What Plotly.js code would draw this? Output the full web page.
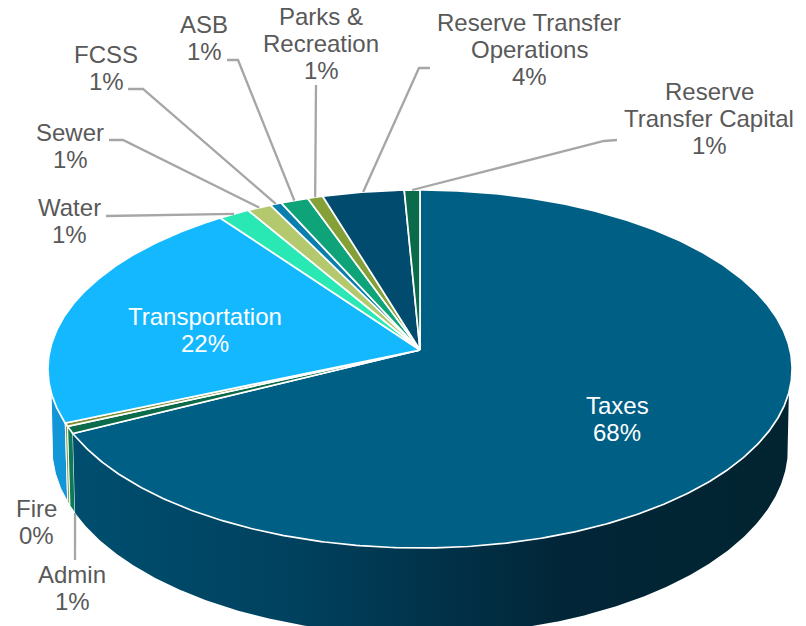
<!DOCTYPE html>
<html>
<head>
<meta charset="utf-8">
<script src="https://cdn.plot.ly/plotly-3.0.1.min.js"></script>
<style>html,body{margin:0;padding:0;background:#fff}#chart{width:806px;height:626px}</style>
</head>
<body>
<div id="chart"></div>
<script>
// ---- data (clockwise from 12 o'clock) ----
const categories = ["Taxes","Admin","Fire","Transportation","Water","Sewer","FCSS","ASB","Parks & Recreation","Reserve Transfer Operations","Reserve Transfer Capital"];
const values     = [67.6, 0.64, 0.31, 21.5, 1.5, 1.17, 0.55, 1.33, 0.74, 3.93, 0.75];
const percents   = ["68%","1%","0%","22%","1%","1%","1%","1%","1%","4%","1%"];
const topColors  = ["#005f85","#0b6b4a","#7f8f34","#14b8ff","#2ae8b4","#b4c96e","#0a7fae","#0fa37a","#84a036","#014b6e","#0a6b4a"];
const wallColors = {Admin:"#0b7b55", Fire:"#8e9c50", Transportation:"#1196d8"};
const taxesWallScale = [[0,"#004e6f"],[0.3,"#00425f"],[0.55,"#012f45"],[0.68,"#022638"],[1,"#022430"]];

// label layout: the lines of each label, and where they sit
const labelLines = [["Taxes"],["Admin"],["Fire"],["Transportation"],["Water"],["Sewer"],["FCSS"],["ASB"],["Parks &","Recreation"],["Reserve Transfer","Operations"],["Reserve","Transfer Capital"]];
const labelX     = [617,72,36,205,69,70,106,204,321,529,709];
const labelTop   = [405,574,508,316,207,132,54,24,16,22,91];
const inside     = ["Taxes","Transportation"];
// leader-line start and elbow, by category (the end is computed on the rim)
const leaders = {
  "Admin":[[75,560]],
  "Water":[[106,216]],
  "Sewer":[[109,140],[123,140]],
  "FCSS":[[128,89],[143,89]],
  "ASB":[[227,60],[238,60]],
  "Parks & Recreation":[[316,85]],
  "Reserve Transfer Operations":[[430,68],[419,68]],
  "Reserve Transfer Capital":[[617,140],[604,141]]
};

// ---- tilted-disc projection ----
const top_ = {cx:420, y0:350, A:177, B:370, k:0.106};
const bot_ = {cx:420, y0:425.6, A:184.3, B:365.3, k:0.12};
const rad = d => d*Math.PI/180;
function proj(p, deg){
  const u=Math.sin(rad(deg)), v=Math.cos(rad(deg)), w=1+p.k*v;
  return [p.cx+p.B*u/w, p.y0-p.A*v/w];
}
function arc(p,a,b){
  const n=Math.max(2,Math.ceil(Math.abs(b-a)/0.5)), out=[];
  for(let i=0;i<=n;i++) out.push(proj(p,a+(b-a)*i/n));
  return out;
}
const total = values.reduce((s,v)=>s+v,0);
let acc=0;
const bounds = values.map(v=>{const a=acc/total*360; acc+=v; return [a,acc/total*360];});

function polyTrace(pts,fill,lineW,extra){
  const xs=pts.map(p=>p[0]), ys=pts.map(p=>p[1]);
  xs.push(xs[0]); ys.push(ys[0]);
  return Object.assign({type:"scatter",mode:"lines",x:xs,y:ys,fill:"toself",fillcolor:fill,
    line:{color:"#ffffff",width:lineW},hoverinfo:"skip",showlegend:false},extra||{});
}
const traces=[];
const RIGHT_BOT=100, RIGHT_TOP=103.5, LEFT_BOT=260, LEFT_TOP=256.5;
function wall(a,b,aTop,bTop){
  return arc(bot_,a,b).concat(arc(top_,bTop,aTop));
}
// side wall
const iT=categories.indexOf("Transportation"), iF=categories.indexOf("Fire"), iA=categories.indexOf("Admin"), iX=categories.indexOf("Taxes");
traces.push(polyTrace(wall(bounds[iT][0],LEFT_BOT,bounds[iT][0],LEFT_TOP),wallColors.Transportation,1));
traces.push(polyTrace(wall(bounds[iF][0],bounds[iF][1],bounds[iF][0],bounds[iF][1]),wallColors.Fire,1));
traces.push(polyTrace(wall(bounds[iA][0],bounds[iA][1],bounds[iA][0],bounds[iA][1]),wallColors.Admin,1));
traces.push(polyTrace(wall(RIGHT_BOT,bounds[iX][1],RIGHT_TOP,bounds[iX][1]),"#004e6f",0,
  {fillgradient:{type:"horizontal",colorscale:taxesWallScale}}));
// top face
categories.forEach((c,i)=>{
  const pts=[[top_.cx,top_.y0]].concat(arc(top_,bounds[i][0],bounds[i][1]));
  traces.push(polyTrace(pts,topColors[i],1.7));
});
// leader lines
categories.forEach((c,i)=>{
  if(!leaders[c]) return;
  const mid=(bounds[i][0]+bounds[i][1])/2;
  const end = c==="Admin" ? proj(bot_,bounds[i][0]) : proj(top_,mid);
  const pts=leaders[c].concat([end]);
  traces.push({type:"scatter",mode:"lines",x:pts.map(p=>p[0]),y:pts.map(p=>p[1]),
    line:{color:"#a6a6a6",width:2.3},hoverinfo:"skip",showlegend:false});
});
// labels
const LINE=27, annotations=[];
categories.forEach((c,i)=>{
  labelLines[i].concat([percents[i]]).forEach((t,j)=>{
    annotations.push({x:labelX[i],y:labelTop[i]+j*LINE,xref:"x",yref:"y",text:t.replace("&","&amp;"),showarrow:false,
      xanchor:"center",yanchor:"middle",
      font:{family:"Liberation Sans, Arial, sans-serif",size:24,color:inside.includes(c)?"#ffffff":"#595959"}});
  });
});
Plotly.newPlot("chart",traces,{
  width:806,height:626,margin:{l:0,r:0,t:0,b:0},
  paper_bgcolor:"#ffffff",plot_bgcolor:"#ffffff",showlegend:false,
  xaxis:{range:[0,806],visible:false,fixedrange:true},
  yaxis:{range:[626,0],visible:false,fixedrange:true},
  annotations:annotations
},{displayModeBar:false,staticPlot:true});
</script>
</body>
</html>
